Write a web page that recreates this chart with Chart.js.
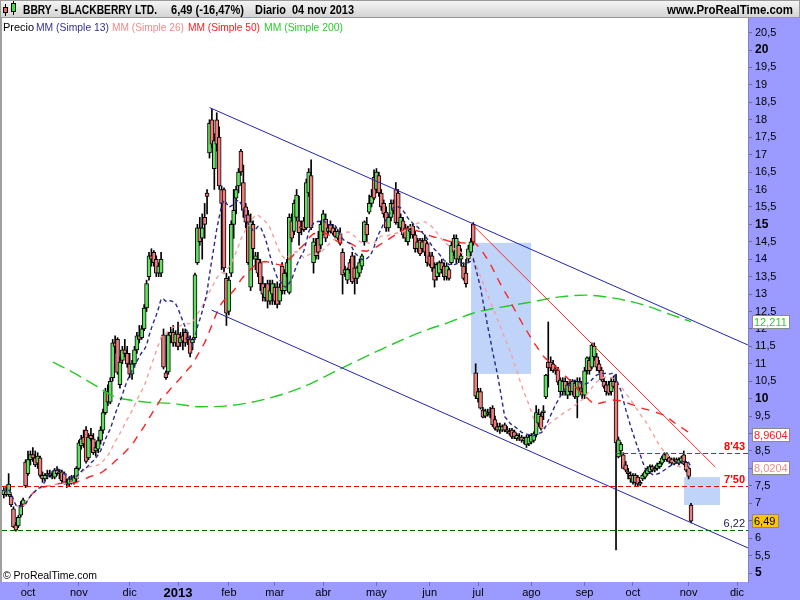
<!DOCTYPE html>
<html>
<head>
<meta charset="utf-8">
<title>BBRY - BLACKBERRY LTD.</title>
<script src="https://cdn.jsdelivr.net/npm/chart.js@4.4.0/dist/chart.umd.min.js"></script>
<style>
  html, body { margin: 0; padding: 0; background: #fff; }
  #wrap { width: 800px; height: 600px; }
</style>
</head>
<body>
<div id="wrap"><canvas id="bbryChart" width="800" height="600"></canvas></div>
<script>
// daily candles, index 0 = 17 sep 2012, last = 04 nov 2013
var opens = [
  7.25,7.35,7.25,7.2,6.84,6.38,6.35,6.66,6.97,8.18,
  7.85,8.25,8.4,8.3,8.15,8.3,7.8,7.7,7.8,7.85,
  7.8,7.75,7.95,7.85,7.9,7.85,7.6,7.55,7.7,7.6,
  7.7,8.0,8.65,8.9,9.1,8.3,8.95,8.85,8.5,8.55,
  8.8,9.1,9.6,10.2,9.9,10.6,11.6,11.7,10.4,11.1,
  11.4,11.3,11.0,10.7,11.0,11.4,11.8,11.75,12.0,12.6,
  13.5,14.1,14.2,14.0,13.6,13.6,11.83,10.74,10.77,11.8,
  11.9,11.6,11.85,11.6,11.8,11.9,11.75,11.7,11.6,11.75,
  13.9,14.9,14.6,15.2,15.9,17.05,18.0,16.6,18.0,17.5,
  16.0,16.0,13.45,12.5,13.6,15.0,15.75,16.1,17.1,16.2,
  15.5,15.27,13.2,15.0,14.0,14.0,13.9,13.3,12.9,13.3,
  12.8,13.0,13.2,13.2,12.8,13.8,13.1,13.6,13.05,15.1,
  14.8,15.2,15.1,14.9,15.1,14.9,15.9,16.4,13.9,14.4,
  14.6,14.4,14.8,15.15,14.8,15.0,14.9,14.8,14.6,14.75,
  14.2,13.6,13.4,13.9,14.1,13.75,13.45,13.6,13.8,14.5,
  15.0,15.35,15.6,16.35,16.0,16.4,15.9,15.6,15.35,14.9,
  15.2,15.6,16.0,15.9,14.9,15.1,14.9,14.5,14.8,14.95,
  14.7,14.3,14.55,14.3,14.55,14.45,14.1,14.1,13.75,13.5,
  13.6,13.9,13.8,13.5,13.7,13.9,14.6,14.0,14.4,14.0,
  13.8,13.6,14.0,14.2,15.0,10.74,10.0,10.2,9.67,9.5,
  9.6,9.55,9.73,9.4,9.2,9.1,9.1,9.25,9.1,9.05,
  9.1,9.05,8.85,8.9,8.9,8.8,8.67,8.7,8.75,8.8,
  8.97,9.3,9.5,9.6,10.05,11.05,11.05,11.0,10.85,10.82,
  10.2,10.2,10.5,10.1,10.45,10.2,10.45,10.05,10.5,10.2,
  10.1,10.8,11.1,10.9,11.2,11.2,11.0,10.82,10.5,10.4,
  10.4,10.2,10.5,10.48,8.33,8.5,8.39,8.1,7.9,7.8,
  7.6,7.8,7.75,7.55,7.7,7.75,7.85,7.9,8.05,7.95,
  8.0,8.05,8.15,8.25,8.4,8.3,8.25,8.15,8.25,8.15,
  8.2,8.39,8.18,8.0,6.95
];
var highs = [
  7.45,7.5,7.85,7.3,6.9,6.45,6.65,7.05,7.15,8.25,
  8.5,8.5,8.6,8.5,8.45,8.35,7.9,7.85,7.95,7.95,
  7.9,8.0,8.05,7.95,7.95,7.9,7.7,7.75,7.8,7.8,
  8.05,8.8,8.95,9.1,9.2,9.0,9.15,9.0,8.75,8.9,
  9.2,9.7,10.3,10.4,10.6,11.7,11.8,11.75,11.2,11.5,
  11.7,11.5,11.3,11.1,11.5,11.9,12.1,12.1,12.7,13.4,
  14.2,14.3,14.25,14.1,13.9,14.2,12.0,10.8,11.9,12.05,
  12.1,11.95,12.2,11.9,12.0,12.0,11.9,11.8,11.75,13.6,
  15.0,15.2,15.3,15.6,16.0,18.0,18.3,17.6,18.2,17.8,
  16.1,16.05,13.6,13.5,15.1,16.0,16.1,16.6,17.15,16.7,
  15.6,15.4,15.3,15.1,14.2,14.2,14.0,13.5,13.3,13.4,
  13.4,13.4,13.3,13.35,13.3,13.9,13.7,14.0,15.3,15.3,
  15.7,16.0,15.8,15.1,15.2,16.3,16.6,16.85,14.6,14.6,
  14.8,15.1,15.4,15.3,15.0,15.1,15.0,14.9,14.85,14.9,
  14.3,13.8,13.75,14.0,14.2,14.1,13.8,14.0,14.15,15.1,
  15.2,15.84,16.0,16.56,16.6,16.5,16.0,15.7,15.5,15.3,
  15.7,15.7,16.2,16.0,15.3,15.2,15.0,14.95,15.0,15.0,
  14.8,14.6,14.6,14.6,14.7,14.5,14.2,14.2,13.9,13.9,
  13.95,14.0,13.9,13.9,13.75,14.5,14.7,14.7,14.5,14.3,
  13.9,14.0,14.4,14.6,15.05,11.0,10.3,10.3,9.75,9.7,
  9.7,9.75,9.8,9.5,9.3,9.3,9.25,9.3,9.2,9.15,
  9.15,9.1,9.0,9.0,8.95,8.9,8.95,8.95,9.0,9.05,
  9.8,9.7,9.6,9.8,10.7,12.2,11.2,11.1,10.95,10.9,
  10.6,10.6,10.6,10.5,10.55,10.55,10.5,10.6,10.6,10.3,
  10.9,11.2,11.2,11.6,11.6,11.3,11.1,10.9,10.6,10.5,
  10.5,10.6,10.65,10.7,8.9,8.75,8.45,8.2,8.0,7.9,
  7.85,7.85,7.8,7.65,7.85,7.95,8.05,8.1,8.1,8.05,
  8.15,8.2,8.35,8.45,8.45,8.35,8.3,8.3,8.3,8.3,
  8.35,8.5,8.2,8.05,7.0
];
var lows = [
  7.15,7.2,7.2,6.9,6.3,6.2,6.3,6.6,6.9,7.45,
  7.8,8.1,8.2,8.05,8.0,7.75,7.6,7.65,7.7,7.75,
  7.7,7.7,7.8,7.7,7.6,7.55,7.45,7.5,7.55,7.55,
  7.6,7.95,8.55,8.6,8.15,8.25,8.8,8.4,8.35,8.45,
  8.7,9.0,9.55,9.8,9.85,10.5,11.3,10.7,10.3,11.0,
  11.2,10.9,10.6,10.55,10.9,11.3,11.6,11.7,11.95,12.5,
  13.4,13.8,13.8,13.5,13.5,13.5,10.85,10.55,10.7,11.6,
  11.5,11.5,11.4,11.5,11.4,11.5,11.55,11.2,11.4,11.7,
  13.85,14.4,14.0,14.6,15.3,16.9,17.2,16.0,17.1,16.0,
  13.7,13.6,12.1,12.4,13.5,14.6,15.3,15.9,16.4,15.2,
  14.9,13.85,13.1,14.0,13.7,13.5,13.1,12.8,12.8,12.6,
  12.7,12.7,12.7,12.6,12.7,13.0,13.0,13.5,13.0,14.5,
  14.7,15.1,14.4,14.7,14.8,14.85,15.8,14.85,13.6,14.0,
  14.0,14.3,14.7,14.5,14.7,14.75,14.7,14.6,14.55,14.4,
  13.0,13.5,13.3,13.6,13.3,13.0,13.3,13.5,13.7,14.4,
  14.5,15.3,15.5,15.7,15.9,15.8,15.4,15.2,14.8,14.8,
  15.1,15.3,15.0,14.9,14.8,14.6,14.5,14.4,14.6,14.6,
  14.2,14.2,14.1,14.2,14.1,13.8,13.8,13.65,13.2,13.4,
  13.5,13.6,13.4,13.4,13.4,13.85,14.1,13.9,13.9,13.8,
  13.4,13.2,13.9,14.1,14.4,10.0,9.9,9.7,9.45,9.45,
  9.5,9.45,9.2,9.1,9.05,9.0,9.05,9.05,9.0,8.95,
  8.85,8.85,8.8,8.8,8.75,8.7,8.6,8.65,8.7,8.75,
  8.9,9.2,9.1,9.4,10.0,10.33,10.8,10.75,10.7,10.4,
  10.1,10.1,10.1,10.0,10.1,10.1,10.0,9.45,10.2,10.0,
  10.0,10.7,10.7,10.85,11.1,10.8,10.75,10.5,10.3,10.1,
  10.1,10.1,10.3,5.66,8.3,8.4,8.0,7.9,7.7,7.6,
  7.55,7.5,7.5,7.5,7.65,7.7,7.8,7.85,7.9,7.9,
  7.95,8.0,8.1,8.2,8.2,8.15,8.1,8.1,8.15,8.1,
  8.15,8.1,7.9,7.7,6.44
];
var closes = [
  7.38,7.25,7.55,6.95,6.32,6.23,6.6,6.95,7.1,7.5,
  8.25,8.4,8.3,8.1,8.35,7.8,7.7,7.8,7.85,7.8,
  7.75,7.95,7.85,7.9,7.65,7.6,7.55,7.7,7.6,7.75,
  8.0,8.73,8.85,8.7,8.2,8.9,8.85,8.45,8.6,8.8,
  9.1,9.6,10.2,9.9,10.5,11.6,11.5,10.75,11.05,11.4,
  11.3,11.0,10.7,11.0,11.4,11.8,11.7,12.0,12.6,13.3,
  14.1,14.0,13.9,13.6,13.8,14.0,10.9,10.6,11.83,11.9,
  11.6,11.85,11.5,11.75,11.65,11.6,11.7,11.3,11.7,13.55,
  14.9,14.5,14.9,15.0,15.8,17.9,17.3,17.4,17.3,16.1,
  15.6,13.75,12.45,13.4,15.0,15.4,16.0,16.5,16.5,15.4,
  15.06,13.9,15.07,14.3,14.1,13.6,13.3,13.0,13.2,12.8,
  13.1,13.3,12.8,12.7,13.2,13.1,13.6,13.9,15.2,14.6,
  15.6,15.84,14.76,14.9,14.85,16.2,16.5,14.9,14.5,14.1,
  14.2,15.0,15.3,14.6,14.9,14.8,14.75,14.65,14.8,14.45,
  13.55,13.7,13.7,13.7,13.35,13.45,13.75,13.9,14.1,15.07,
  14.7,15.6,15.8,15.75,16.5,15.9,15.5,15.3,14.9,15.2,
  15.6,15.4,15.05,15.05,15.2,14.7,14.6,14.9,14.85,14.7,
  14.3,14.5,14.15,14.5,14.2,13.9,13.85,13.75,13.4,13.85,
  13.9,13.7,13.5,13.8,13.45,14.4,14.2,14.6,14.0,14.1,
  13.45,13.3,14.3,14.5,14.5,10.07,10.2,9.73,9.47,9.65,
  9.55,9.6,9.25,9.15,9.1,9.2,9.2,9.1,9.05,9.0,
  8.9,8.9,8.95,8.85,8.8,8.85,8.9,8.9,8.95,9.0,
  9.6,9.55,9.15,9.65,10.68,10.88,10.88,10.8,10.8,10.47,
  10.53,10.5,10.2,10.4,10.2,10.5,10.05,10.5,10.3,10.1,
  10.8,11.17,10.8,11.54,11.5,10.9,10.8,10.54,10.35,10.2,
  10.15,10.5,10.35,8.73,8.82,8.7,8.0,7.95,7.85,7.7,
  7.8,7.6,7.55,7.6,7.8,7.9,8.0,8.05,7.95,8.0,
  8.1,8.15,8.3,8.4,8.25,8.2,8.15,8.2,8.18,8.25,
  8.3,8.12,7.95,7.77,6.49
];

// MM 200 (day index, value)
var ma200Days   = [20.3, 28.2, 38.5, 46, 51.3, 59.2, 69.9, 81, 93.5, 105.9, 122.4, 138.9, 155.5, 172, 184.4, 193.9, 205, 216.2, 229.8, 240.2, 250.5, 262.9, 275.3, 284];
var ma200Values = [11.05, 10.77, 10.35, 10.05, 9.97, 9.9, 9.86, 9.77, 9.8, 9.95, 10.3, 10.85, 11.4, 11.9, 12.2, 12.45, 12.62, 12.75, 12.92, 12.97, 12.9, 12.72, 12.42, 12.21];

// axis ticks
var monthStarts = [10, 31, 52, 72, 93, 112, 132, 154, 176, 196, 218, 240, 260, 283, 303];
var monthLabels = ['oct', 'nov', 'dic', '2013', 'feb', 'mar', 'abr', 'may', 'jun', 'jul', 'ago', 'sep', 'oct', 'nov', 'dic'];
var priceTicks = [5, 5.5, 6, 6.5, 7, 7.5, 8, 8.5, 9, 9.5, 10, 10.5, 11, 11.5, 12, 12.5, 13, 13.5, 14, 14.5, 15, 15.5, 16, 16.5, 17, 17.5, 18, 18.5, 19, 19.5, 20, 20.5];

// drawn objects: [day, price]
var upperChannel = [[85.0, 18.35], [307.5, 11.54]];
var lowerChannel = [[85.9, 12.54], [307.5, 5.72]];
var redTrend = [[193.5, 15.0], [294.0, 8.04]];
var levelValues = [8.43, 7.50, 6.22];
var levelStarts = [252.6, -1, -1];
var levelLabels = ["8'43", "7'50", "6,22"];
var zoneA = [193.1, 217.9, 10.71, 14.47];
var zoneB = [281.1, 296.0, 6.95, 7.75];

// last values on the right axis
var boxValues = [12.211, 8.9604, 8.0204, 6.49];
var boxTexts = ['12,211', '8,9604', '8,0204', '6,49'];

var FONT = '"Liberation Sans", Arial, sans-serif';
var LAVENDER = '#9a9aff';

function movingAverage(values, period, startAt) {
    var out = [];
    for (var i = 0; i < values.length; i++) {
        if (i < startAt) continue;
        var from = Math.max(0, i - period + 1);
        var sum = 0;
        for (var k = from; k <= i; k++) sum += values[k];
        out.push({ x: i, y: sum / (i - from + 1) });
    }
    return out;
}

var wickData = closes.map(function(c, i) { return { x: i, y: [lows[i], highs[i]] }; });
var bodyData = closes.map(function(c, i) { return { x: i, y: [opens[i], c] }; });
var bodyColors = closes.map(function(c, i) { return c >= opens[i] ? '#5fe35f' : '#f07c7c'; });
var ma200Data = ma200Days.map(function(d, i) { return { x: d, y: ma200Values[i] }; });

var framePlugin = {
    id: 'proRealTimeFrame',
    beforeDraw: function(chart) {
        var ctx = chart.ctx, a = chart.chartArea;
        ctx.save();
        ctx.fillStyle = LAVENDER;
        ctx.fillRect(0, 0, chart.width, chart.height);
        ctx.fillStyle = '#ffffff';
        ctx.fillRect(a.left, a.top, a.right - a.left, a.bottom - a.top);
        ctx.fillStyle = '#a0a0a0';
        ctx.fillRect(0, a.top, 2, a.bottom - a.top);
        // header bar
        var g = ctx.createLinearGradient(0, 0, 0, 18);
        g.addColorStop(0, '#f6f6f6');
        g.addColorStop(1, '#d2d2d2');
        ctx.fillStyle = g;
        ctx.fillRect(0, 0, chart.width, 18);
        ctx.strokeStyle = '#9a9a9a';
        ctx.lineWidth = 1;
        ctx.strokeRect(0.5, 0.5, chart.width - 1, 17);
        ctx.restore();
    },
    beforeDatasetsDraw: function(chart) {
        var ctx = chart.ctx, xs = chart.scales.x, ys = chart.scales.y;
        ctx.save();
        ctx.fillStyle = 'rgb(192, 212, 250)';
        [zoneA, zoneB].forEach(function(z) {
            var x1 = xs.getPixelForValue(z[0]), x2 = xs.getPixelForValue(z[1]);
            var y1 = ys.getPixelForValue(z[3]), y2 = ys.getPixelForValue(z[2]);
            ctx.fillRect(x1, y1, x2 - x1, y2 - y1);
        });
        ctx.restore();
    },
    afterDatasetsDraw: function(chart) {
        var ctx = chart.ctx, xs = chart.scales.x, ys = chart.scales.y, a = chart.chartArea;
        ctx.save();
        ctx.beginPath();
        ctx.rect(a.left, a.top, a.right - a.left, a.bottom - a.top);
        ctx.clip();

        function seg(p, color) {
            ctx.strokeStyle = color;
            ctx.lineWidth = 1;
            ctx.setLineDash([]);
            ctx.beginPath();
            ctx.moveTo(xs.getPixelForValue(p[0][0]), ys.getPixelForValue(p[0][1]));
            ctx.lineTo(xs.getPixelForValue(p[1][0]), ys.getPixelForValue(p[1][1]));
            ctx.stroke();
        }
        seg(upperChannel, '#2424b4');
        seg(lowerChannel, '#2424b4');
        seg(redTrend, '#ff2a2a');

        // horizontal levels
        var levelColors = ['#ff0000', '#ff0000', '#006a00'];
        var labelColors = ['#ff0000', '#ff0000', '#1a1a40'];
        levelValues.forEach(function(v, i) {
            var y = Math.round(ys.getPixelForValue(v)) + 0.5;
            var x0 = levelStarts[i] < 0 ? a.left : xs.getPixelForValue(levelStarts[i]);
            ctx.strokeStyle = levelColors[i];
            ctx.setLineDash([5, 3]);
            ctx.beginPath();
            ctx.moveTo(x0, y);
            ctx.lineTo(a.right, y);
            ctx.stroke();
            ctx.setLineDash([]);
            ctx.fillStyle = labelColors[i];
            ctx.font = (i < 2 ? 'bold ' : '') + '11px ' + FONT;
            ctx.textAlign = 'right';
            ctx.textBaseline = 'alphabetic';
            ctx.fillText(levelLabels[i], a.right - 3, y - 4);
        });
        ctx.restore();
    },
    afterDraw: function(chart) {
        var ctx = chart.ctx, a = chart.chartArea, ys = chart.scales.y;
        ctx.save();
        ctx.textBaseline = 'alphabetic';

        // small candle icon
        ctx.strokeStyle = '#000';
        ctx.lineWidth = 1;
        ctx.beginPath();
        ctx.moveTo(5.5, 4); ctx.lineTo(5.5, 16);
        ctx.moveTo(13.5, 1); ctx.lineTo(13.5, 15);
        ctx.stroke();
        ctx.fillStyle = '#e86a6a';
        ctx.fillRect(3, 7, 5, 6); ctx.strokeRect(3.5, 7.5, 4, 5);
        ctx.fillStyle = '#44dd44';
        ctx.fillRect(11, 3, 5, 9); ctx.strokeRect(11.5, 3.5, 4, 8);

        // title
        ctx.fillStyle = '#000';
        ctx.font = 'bold 12px ' + FONT;
        ctx.textAlign = 'left';
        ctx.fillText('BBRY - BLACKBERRY LTD.', 23, 14, 134);
        ctx.fillText('6,49 (-16,47%)', 171, 14, 73);
        ctx.fillText('Diario  04 nov 2013', 255, 14, 99);
        ctx.textAlign = 'right';
        ctx.fillText('www.ProRealTime.com', 793, 14, 126);

        // indicator legend
        ctx.textAlign = 'left';
        ctx.font = '11px ' + FONT;
        var parts = [
            ['Precio', 3, 32, '#000000'],
            ['MM (Simple 13)', 36, 73, '#33338f'],
            ['MM (Simple 26)', 112, 72, '#f08a8a'],
            ['MM (Simple 50)', 188, 72, '#ff1a1a'],
            ['MM (Simple 200)', 264, 79, '#2ccc2c']
        ];
        parts.forEach(function(p) {
            ctx.fillStyle = p[3];
            ctx.fillText(p[0], p[1], 31, p[2]);
        });

        ctx.fillStyle = '#000';
        ctx.fillText('\u00a9 ProRealTime.com', 3, 579, 94);

        // value boxes on the price axis
        var boxStyles = [
            { bg: '#ffffff', fg: '#2ccc2c', w: 34 },
            { bg: '#ffffff', fg: '#ff1a1a', w: 34 },
            { bg: '#ffffff', fg: '#f08a8a', w: 34 },
            { bg: '#ffc400', fg: '#000000', w: 23 }
        ];
        boxValues.forEach(function(v, i) {
            var y = Math.round(ys.getPixelForValue(v));
            var s = boxStyles[i];
            var x = a.right + 4;
            ctx.fillStyle = s.bg;
            ctx.fillRect(x, y - 7, s.w + 4, 14);
            ctx.strokeStyle = '#8a8a8a';
            ctx.strokeRect(x + 0.5, y - 6.5, s.w + 3, 13);
            ctx.fillStyle = s.fg;
            ctx.font = '11px ' + FONT;
            ctx.textAlign = 'left';
            ctx.fillText(boxTexts[i], x + 2, y + 4, s.w);
        });
        ctx.restore();
    }
};

var chart = new Chart(document.getElementById('bbryChart').getContext('2d'), {
    type: 'bar',
    data: {
        datasets: [
            {
                type: 'line', label: 'MM (Simple 13)',
                data: movingAverage(closes, 13, 0),
                borderColor: '#2a2a88', borderWidth: 1.4, borderDash: [4, 3],
                pointRadius: 0, order: 0
            },
            {
                type: 'line', label: 'MM (Simple 26)',
                data: movingAverage(closes, 26, 0),
                borderColor: '#f2a0a0', borderWidth: 1.4, borderDash: [4, 4],
                pointRadius: 0, order: 0
            },
            {
                type: 'line', label: 'MM (Simple 50)',
                data: movingAverage(closes, 50, 7),
                borderColor: '#ff2020', borderWidth: 1.4, borderDash: [8, 7],
                pointRadius: 0, order: 0
            },
            {
                type: 'line', label: 'MM (Simple 200)',
                data: ma200Data,
                borderColor: '#22cc22', borderWidth: 1.4, borderDash: [13, 6],
                pointRadius: 0, cubicInterpolationMode: 'monotone', order: 0
            },
            {
                label: 'body', data: bodyData,
                backgroundColor: bodyColors, borderColor: '#000000',
                borderWidth: 1, borderSkipped: false, barThickness: 4,
                minBarLength: 1, grouped: false, order: 1
            },
            {
                label: 'wick', data: wickData,
                backgroundColor: '#000000', borderWidth: 0,
                barThickness: 1, grouped: false, order: 2
            }
        ]
    },
    options: {
        responsive: false,
        animation: false,
        devicePixelRatio: 1,
        layout: { padding: { top: 18, left: 2, right: 0, bottom: 0 } },
        plugins: { legend: { display: false }, tooltip: { enabled: false } },
        scales: {
            x: {
                type: 'linear',
                min: -0.745, max: 307.54,
                offset: false,
                afterFit: function(scale) { scale.height = 18; },
                afterBuildTicks: function(scale) {
                    scale.ticks = monthStarts.map(function(v) { return { value: v }; });
                },
                grid: { drawOnChartArea: false, offset: false, tickLength: 4, color: '#7070c0' },
                border: { display: false },
                ticks: {
                    autoSkip: false, maxRotation: 0, padding: 0, color: '#000',
                    font: function(c) {
                        var big = c.tick && c.tick.value === 72;
                        return { family: FONT, size: big ? 13 : 11, weight: big ? 'bold' : 'normal' };
                    },
                    callback: function(value) { return monthLabels[monthStarts.indexOf(value)]; }
                }
            },
            y: {
                type: 'linear',
                position: 'right',
                min: 4.742, max: 20.918,
                afterFit: function(scale) { scale.width = 52; },
                afterBuildTicks: function(scale) {
                    scale.ticks = priceTicks.map(function(v) { return { value: v }; });
                },
                grid: { drawOnChartArea: false, tickLength: 4, color: '#6b6b9a' },
                border: { display: true, color: '#8080c8' },
                ticks: {
                    padding: 3, color: '#000',
                    font: function(c) {
                        var bold = c.tick && c.tick.value % 5 === 0;
                        return { family: FONT, size: bold ? 12 : 11, weight: bold ? 'bold' : 'normal' };
                    },
                    callback: function(value) { return String(value).replace('.', ','); }
                }
            }
        }
    },
    plugins: [framePlugin]
});
</script>
</body>
</html>
